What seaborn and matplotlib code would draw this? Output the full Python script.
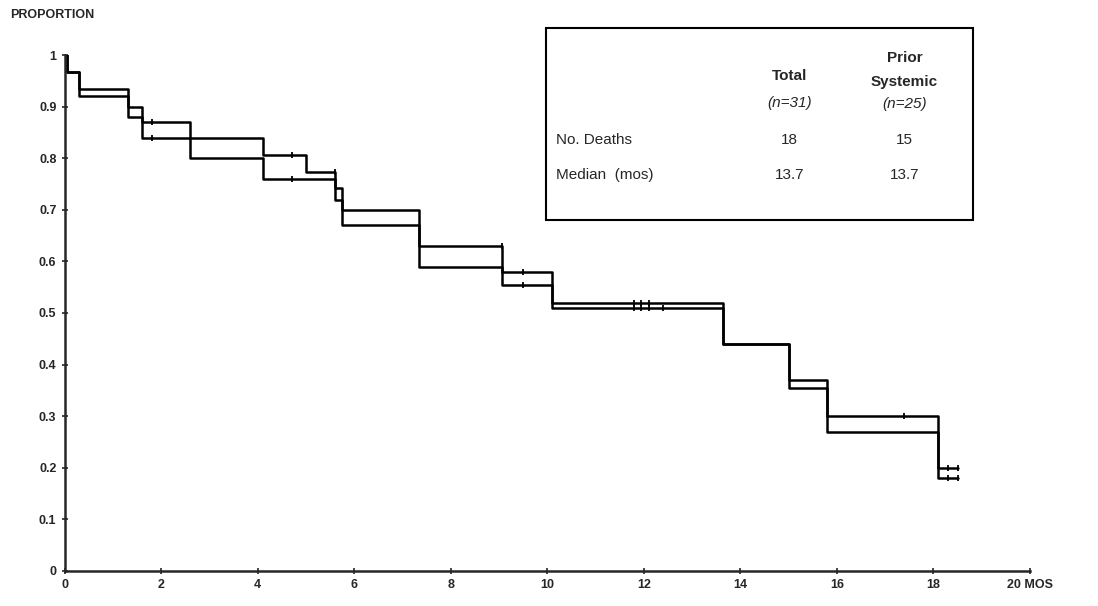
import matplotlib
matplotlib.use("Agg")
import matplotlib.pyplot as plt
import seaborn as sns

# step curves: time (months) and survival proportion after that time
total_t = [0, 0.05, 0.3, 1.3, 1.6, 2.6, 4.1, 5.6, 5.75, 7.35, 9.05, 10.1, 13.65, 15.0, 15.8, 18.1, 18.5]
total_s = [1.0, 0.968, 0.92, 0.88, 0.84, 0.80, 0.76, 0.72, 0.67, 0.59, 0.555, 0.51, 0.44, 0.355, 0.27, 0.18, 0.18]
prior_t = [0, 0.05, 0.3, 1.3, 1.6, 2.6, 4.1, 5.0, 5.6, 5.75, 7.35, 9.05, 10.1, 13.65, 15.0, 15.8, 18.1, 18.5]
prior_s = [1.0, 0.968, 0.935, 0.90, 0.871, 0.839, 0.806, 0.774, 0.742, 0.70, 0.63, 0.58, 0.52, 0.44, 0.37, 0.30, 0.20, 0.20]

# censored observations
total_cx = [1.8, 4.7, 9.5, 11.8, 11.95, 12.1, 12.4, 18.3, 18.5]
total_cy = [0.84, 0.76, 0.555, 0.51, 0.51, 0.51, 0.51, 0.18, 0.18]
prior_cx = [1.8, 4.7, 5.6, 9.05, 9.5, 11.8, 11.95, 12.1, 17.4, 18.3, 18.5]
prior_cy = [0.871, 0.806, 0.774, 0.63, 0.58, 0.52, 0.52, 0.52, 0.30, 0.20, 0.20]

sns.set_style("ticks")
plt.rcParams['font.family'] = ['Liberation Sans', 'DejaVu Sans']

fig, ax = plt.subplots(figsize=(10.98, 6.06), dpi=100)
fig.subplots_adjust(left=0.059, right=0.938, top=0.909, bottom=0.058)

for t, s in [(total_t, total_s), (prior_t, prior_s)]:
    sns.lineplot(x=t, y=s, ax=ax, color="black", lw=1.8, drawstyle="steps-post",
                 estimator=None, sort=False)
for cx, cy in [(total_cx, total_cy), (prior_cx, prior_cy)]:
    sns.scatterplot(x=cx, y=cy, ax=ax, marker="|", color="black", s=25, linewidth=1.3)

ax.set_xlim(0, 20)
ax.set_ylim(0, 1)
ax.set_xticks(range(0, 21, 2))
ax.set_xticklabels([str(v) for v in range(0, 20, 2)] + ["20 MOS"], fontsize=9, fontweight="bold")
ax.set_yticks([i / 10 for i in range(11)])
ax.set_yticklabels(["0"] + [f"0.{i}" for i in range(1, 10)] + ["1"], fontsize=9, fontweight="bold")
ax.tick_params(length=5, width=1.2, direction="inout")
sns.despine(ax=ax)
for sp in ax.spines.values():
    sp.set_linewidth(1.8)
ax.text(-0.057, 1.078, "PROPORTION", transform=ax.transAxes, fontsize=9, fontweight="bold", va="center")

# stats box
box = plt.Rectangle((0.499, 0.680), 0.442, 0.372, transform=ax.transAxes, fill=False,
                    lw=1.5, color="black", clip_on=False)
ax.add_patch(box)
kw = dict(transform=ax.transAxes, fontsize=11, ha="center", va="center")
ax.text(0.751, 0.959, "Total", fontweight="bold", **kw)
ax.text(0.751, 0.907, "(n=31)", style="italic", **kw)
ax.text(0.870, 0.994, "Prior", fontweight="bold", **kw)
ax.text(0.870, 0.948, "Systemic", fontweight="bold", **kw)
ax.text(0.870, 0.905, "(n=25)", style="italic", **kw)
ax.text(0.509, 0.835, "No. Deaths", transform=ax.transAxes, fontsize=11, va="center")
ax.text(0.509, 0.767, "Median  (mos)", transform=ax.transAxes, fontsize=11, va="center")
ax.text(0.751, 0.835, "18", **kw)
ax.text(0.870, 0.835, "15", **kw)
ax.text(0.751, 0.767, "13.7", **kw)
ax.text(0.870, 0.767, "13.7", **kw)

fig.savefig("out.png")
